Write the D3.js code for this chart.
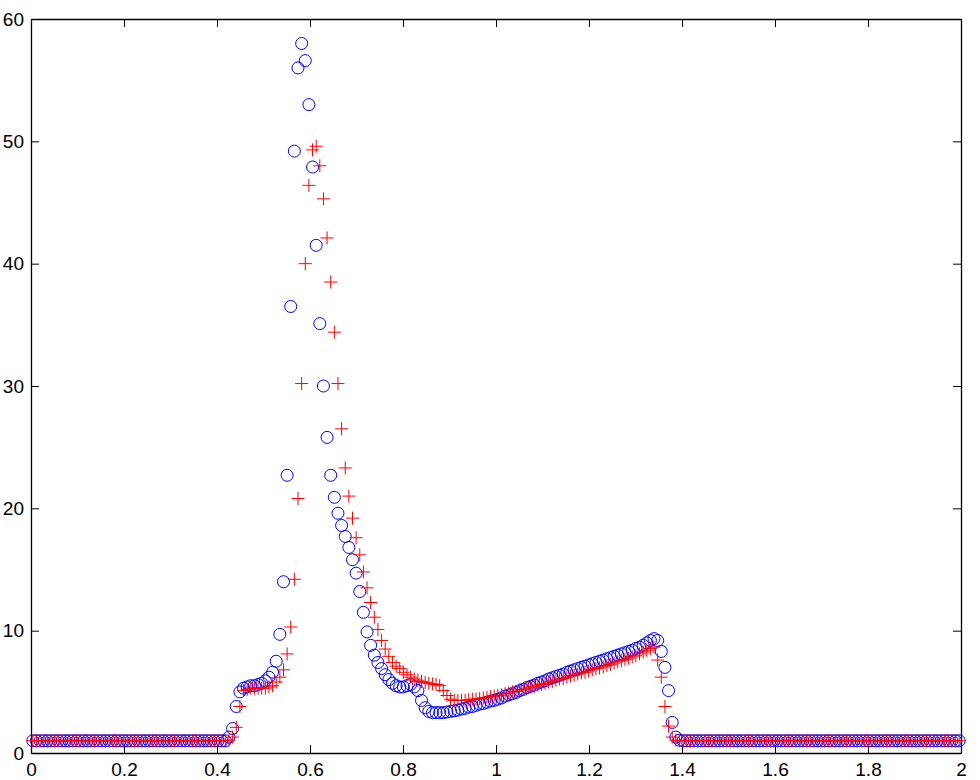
<!DOCTYPE html>
<html>
<head>
<meta charset="utf-8">
<script src="https://cdn.jsdelivr.net/npm/d3@7"></script>
<style>
  html, body { margin: 0; padding: 0; background: #fff; }
  svg { display: block; }
  .axis text { font-family: "Liberation Sans", Arial, Helvetica, sans-serif; font-size: 19px; fill: #000; }
  .axis line, .axis path { stroke: #000; }
</style>
</head>
<body>
<svg id="chart" width="980" height="780"></svg>
<script>
// cell-centred grid on [0, 2]
const nCells = 256;
const xDomain = [0, 2];
const yDomain = [0, 60];
const xTicks = [0, 0.2, 0.4, 0.6, 0.8, 1, 1.2, 1.4, 1.6, 1.8, 2];
const yTicks = [0, 10, 20, 30, 40, 50, 60];

// blue 'o' series
const circleValues = [
  1, 1, 1, 1, 1, 1, 1, 1, 1, 1,
  1, 1, 1, 1, 1, 1, 1, 1, 1, 1,
  1, 1, 1, 1, 1, 1, 1, 1, 1, 1,
  1, 1, 1, 1, 1, 1, 1, 1, 1, 1,
  1, 1, 1, 1, 1, 1, 1, 1, 1, 1,
  1, 1, 1, 1,
  1.3, 2.0, 3.8, 5.0, 5.3, 5.4, 5.5, 5.5, 5.6, 5.7,
  5.9, 6.2, 6.6, 7.5, 9.7, 14.0, 22.7, 36.5, 49.2, 56.0,
  58.0, 56.6, 53.0, 47.9, 41.5, 35.1, 30.0, 25.8, 22.7, 20.9,
  19.6, 18.6, 17.7, 16.8, 15.8, 14.7, 13.2, 11.5, 9.9, 8.8,
  8.0, 7.4, 6.9, 6.4, 6.0, 5.7, 5.5, 5.4, 5.4, 5.5,
  5.6, 5.4, 5.1, 4.3, 3.7, 3.4, 3.3,
  3.3, 3.3, 3.3, 3.35, 3.4, 3.45, 3.5, 3.6, 3.65, 3.75,
  3.8, 3.9, 4.0, 4.05, 4.15, 4.25, 4.3,
  4.4, 4.5, 4.65, 4.75, 4.85, 4.95, 5.1, 5.2, 5.35, 5.45,
  5.55, 5.7, 5.8, 5.9, 6.05, 6.15, 6.25, 6.35, 6.45, 6.6,
  6.7, 6.8, 6.9, 7.0, 7.1, 7.2, 7.3, 7.4, 7.5, 7.6,
  7.7, 7.8, 7.9, 8.0, 8.1, 8.2, 8.3, 8.4, 8.55, 8.65,
  8.8, 9.0, 9.2, 9.35, 9.2, 8.3, 7.0, 5.1, 2.5, 1.3,
  1.05,
  1, 1, 1, 1, 1, 1, 1, 1, 1, 1,
  1, 1, 1, 1, 1, 1, 1, 1, 1, 1,
  1, 1, 1, 1, 1, 1, 1, 1, 1, 1,
  1, 1, 1, 1, 1, 1, 1, 1, 1, 1,
  1, 1, 1, 1, 1, 1, 1, 1, 1, 1,
  1, 1, 1, 1, 1, 1, 1, 1, 1, 1,
  1, 1, 1, 1, 1, 1, 1, 1, 1, 1,
  1, 1, 1, 1, 1, 1, 1
];

// red '+' series
const plusValues = [
  1, 1, 1, 1, 1, 1, 1, 1, 1, 1,
  1, 1, 1, 1, 1, 1, 1, 1, 1, 1,
  1, 1, 1, 1, 1, 1, 1, 1, 1, 1,
  1, 1, 1, 1, 1, 1, 1, 1, 1, 1,
  1, 1, 1, 1, 1, 1, 1, 1, 1, 1,
  1, 1, 1, 1,
  1.05, 1.3, 2.1, 3.8, 5.1, 5.2, 5.3, 5.3, 5.3, 5.3,
  5.3, 5.4, 5.5, 5.8, 6.2, 6.8, 8.1, 10.3, 14.2, 20.8,
  30.2, 40.0, 46.4, 49.3, 49.6, 48.0, 45.3, 42.1, 38.5, 34.4,
  30.2, 26.5, 23.3, 21.0, 19.2, 17.6, 16.2, 14.8, 13.5, 12.3,
  11.1, 10.1, 9.2, 8.5, 7.9, 7.4, 7.1, 6.9, 6.6, 6.4,
  6.2, 6.05, 5.95, 5.85, 5.75, 5.7, 5.65, 5.6, 5.5, 5.1,
  4.7, 4.4,
  4.3, 4.3, 4.3, 4.3, 4.35, 4.4, 4.4, 4.45, 4.5, 4.55,
  4.6, 4.65, 4.7, 4.75, 4.85, 4.9, 5.0, 5.05, 5.15, 5.2,
  5.3, 5.4, 5.45, 5.55, 5.6, 5.7, 5.8, 5.85, 5.95, 6.05,
  6.1, 6.2, 6.3, 6.35, 6.45, 6.55, 6.6, 6.7, 6.8, 6.9,
  6.95, 7.05, 7.15, 7.25, 7.35, 7.45, 7.55, 7.65, 7.75, 7.85,
  7.95, 8.1, 8.25, 8.4, 8.55,
  8.65, 7.6, 6.2, 3.8, 2.2, 1.3, 1.05,
  1, 1, 1, 1, 1, 1, 1, 1, 1, 1,
  1, 1, 1, 1, 1, 1, 1, 1, 1, 1,
  1, 1, 1, 1, 1, 1, 1, 1, 1, 1,
  1, 1, 1, 1, 1, 1, 1, 1, 1, 1,
  1, 1, 1, 1, 1, 1, 1, 1, 1, 1,
  1, 1, 1, 1, 1, 1, 1, 1, 1, 1,
  1, 1, 1, 1, 1, 1, 1, 1, 1, 1,
  1, 1, 1, 1, 1, 1, 1, 1
];

const width = 980;
const height = 780;
const margin = { top: 19, right: 19, bottom: 27, left: 31 };
const tickLen = 8;

const svg = d3.select('#chart');

const x = d3.scaleLinear()
  .domain(xDomain)
  .range([margin.left, width - margin.right]);

const y = d3.scaleLinear()
  .domain(yDomain)
  .range([height - margin.bottom, margin.top]);

const cellWidth = (xDomain[1] - xDomain[0]) / nCells;
const xAt = (i) => xDomain[0] + (i + 0.5) * cellWidth;

const circlePoints = circleValues.map((v, i) => ({ x: xAt(i), y: v }));
const plusPoints = plusValues.map((v, i) => ({ x: xAt(i), y: v }));

const fmt = (d) => String(d);

// axes, ticks pointing inward on all four sides
svg.append('g')
  .attr('class', 'axis')
  .attr('transform', `translate(0,${y(0)})`)
  .call(d3.axisBottom(x).tickValues(xTicks).tickFormat(fmt)
    .tickSizeInner(-tickLen).tickSizeOuter(0).tickPadding(10));

svg.append('g')
  .attr('class', 'axis')
  .attr('transform', `translate(0,${y(60)})`)
  .call(d3.axisTop(x).tickValues(xTicks).tickFormat('')
    .tickSizeInner(-tickLen).tickSizeOuter(0));

svg.append('g')
  .attr('class', 'axis')
  .attr('transform', `translate(${x(0)},0)`)
  .call(d3.axisLeft(y).tickValues(yTicks).tickFormat(fmt)
    .tickSizeInner(-tickLen).tickSizeOuter(0).tickPadding(7));

svg.append('g')
  .attr('class', 'axis')
  .attr('transform', `translate(${x(2)},0)`)
  .call(d3.axisRight(y).tickValues(yTicks).tickFormat('')
    .tickSizeInner(-tickLen).tickSizeOuter(0));

svg.selectAll('.axis .domain').attr('stroke-width', 1.3);

// markers: blue circles first, red plus on top
svg.append('g')
  .selectAll('circle')
  .data(circlePoints)
  .join('circle')
  .attr('cx', (d) => x(d.x))
  .attr('cy', (d) => y(d.y))
  .attr('r', 6)
  .attr('fill', 'none')
  .attr('stroke', '#0000ff')
  .attr('stroke-width', 1);

svg.append('g')
  .selectAll('path')
  .data(plusPoints)
  .join('path')
  .attr('transform', (d) => `translate(${x(d.x)},${y(d.y)})`)
  .attr('d', 'M-6.5,0H6.5M0,-6.5V6.5')
  .attr('fill', 'none')
  .attr('stroke', '#ff0000')
  .attr('stroke-width', 1);
</script>
</body>
</html>
